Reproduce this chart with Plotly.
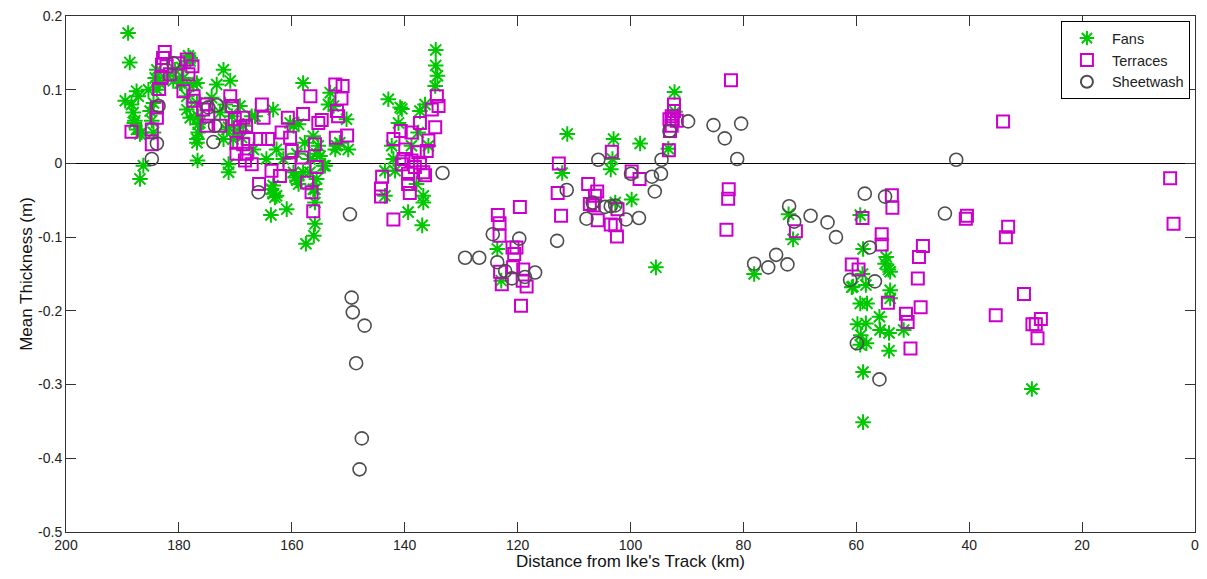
import plotly.graph_objects as go

# ---- data (distance km, mean thickness m) ----
fans_x = [189.0,188.7,187.5,187.2,189.5,188.4,188.1,187.8,187.5,186.9,186.3,186.9,185.4,184.5,184.2,183.9,183.4,180.7,179.2,178.3,178.0,179.8,176.8,178.6,176.8,178.6,176.6,176.3,176.8,176.7,173.3,172.1,170.9,174.2,172.7,171.5,172.1,170.4,171.2,171.2,168.6,167.1,166.8,163.3,162.7,163.3,163.3,164.5,159.7,159.7,158.0,157.7,156.2,155.6,155.6,154.4,153.2,152.6,152.3,156.2,159.1,
          163.6,162.7,160.9,163.7,155.9,155.9,156.1,157.5,155.9,158.8,
          153.5,150.3,151.5,150.0,154.1,156.8,159.4,163.0,169.2,166.5,160.3,158.8,161.5,159.1,156.8,158.0,155.0,155.3,
          134.5,134.5,134.2,134.6,142.9,140.5,137.3,136.4,141.1,137.6,142.3,138.8,135.8,142.0,141.7,143.5,137.9,136.7,136.7,139.4,136.9,143.5,140.8,152.1,111.2,112.1,
          123.6,122.9,103.0,103.2,103.5,98.3,99.8,102.7,95.5,93.3,92.2,92.1,
          72.0,71.2,78.1,59.3,58.8,58.9,60.8,58.3,
          54.7,54.9,54.0,54.3,60.6,54.0,54.0,59.3,58.1,55.9,59.8,58.3,55.8,54.2,51.6,59.2,59.3,58.2,54.2,58.8,58.8,28.9,
          187.9,186.6,183.9,183.6,185.1,184.8,184.5,181.9,181.0,179.5,178.0,179.5,177.4,178.0,176.6,176.6,176.8,171.8,171.2,170.6,169.5,168.9]
fans_y = [0.177,0.137,0.098,0.091,0.085,0.080,0.069,0.058,0.046,0.040,-0.003,-0.021,0.100,0.082,0.116,0.127,0.109,0.127,0.116,0.146,0.139,0.109,0.109,0.091,0.082,0.073,0.064,0.055,0.033,0.004,0.107,0.127,0.112,0.089,0.069,0.046,0.033,0.033,-0.001,-0.012,0.051,0.064,0.019,0.073,0.019,-0.030,-0.041,0.006,0.051,-0.012,0.109,0.028,0.037,0.013,-0.021,-0.003,0.096,0.078,0.019,-0.035,-0.023,
          -0.035,-0.044,-0.062,-0.070,-0.053,-0.082,-0.098,-0.109,-0.035,-0.028,
          0.080,0.060,0.028,0.019,-0.003,-0.012,-0.019,-0.046,0.078,0.064,0.055,0.053,0.006,0.013,0.006,-0.012,0.010,0.024,
          0.154,0.133,0.119,0.105,0.087,0.074,0.071,0.080,0.055,0.042,0.024,0.024,0.024,0.006,-0.010,-0.010,-0.028,-0.044,-0.053,-0.066,-0.084,-0.044,0.076,0.024,0.040,-0.013,
          -0.116,-0.159,0.033,0.006,-0.008,0.027,-0.049,-0.053,-0.141,0.020,0.097,0.070,
          -0.069,-0.103,-0.150,-0.070,-0.116,-0.150,-0.168,-0.165,
          -0.127,-0.136,-0.147,-0.144,-0.167,-0.172,-0.183,-0.190,-0.190,-0.208,-0.218,-0.217,-0.226,-0.230,-0.226,-0.233,-0.246,-0.244,-0.254,-0.283,-0.351,-0.306,
          0.055,0.042,0.100,0.112,0.071,0.058,0.042,0.119,0.112,0.109,0.143,0.130,0.107,0.062,0.053,0.042,0.028,0.080,0.049,0.064,0.044,0.035]

terr_x = [182.5,182.8,183.0,182.2,181.6,183.1,183.5,183.9,183.9,184.8,184.8,188.4,180.1,178.6,177.6,178.3,179.2,177.4,177.4,175.1,174.8,175.1,170.9,170.6,170.1,169.2,169.8,169.8,168.3,167.1,165.3,165.0,165.6,164.2,167.7,163.6,162.1,165.8,160.7,161.8,160.3,160.0,160.4,158.2,158.0,156.7,155.3,154.7,155.9,157.3,156.5,155.6,152.3,152.0,152.2,156.2,
          168.0,151.0,151.2,151.8,150.2,
          134.3,134.0,135.2,134.6,135.8,137.3,138.8,140.7,142.0,139.9,137.6,136.1,140.2,138.8,137.3,140.5,138.2,136.7,139.4,139.4,139.1,144.0,144.2,144.2,142.0,136.4,
          112.7,112.9,112.3,107.5,107.2,123.5,123.2,123.2,119.6,120.9,120.2,120.6,120.8,119.0,123.1,122.8,119.1,118.4,119.4,
          103.3,105.9,106.3,106.5,105.8,103.5,102.7,102.4,102.3,99.8,98.4,93.2,93.0,92.5,92.7,
          92.3,92.3,92.7,91.8,93.1,
          82.2,82.6,82.7,83.0,70.7,58.9,60.8,59.6,
          53.7,53.6,55.5,55.5,48.2,48.9,49.1,54.4,48.6,51.2,50.9,50.4,40.4,40.6,33.1,33.5,35.3,
          34.0,4.4,3.8,30.3,27.3,28.8,28.2,27.9,
          175.7,172.7,168.6,168.1,168.6]
terr_y = [0.151,0.143,0.134,0.132,0.121,0.116,0.101,0.076,0.062,0.046,0.026,0.043,0.136,0.141,0.132,0.121,0.098,0.091,0.085,0.080,0.064,0.051,0.091,0.078,0.060,0.049,0.028,0.013,0.004,-0.001,0.080,0.062,0.033,0.033,0.033,-0.010,-0.017,-0.028,0.062,0.042,0.035,0.017,-0.001,0.008,0.067,0.091,0.055,0.059,0.026,-0.026,-0.039,-0.005,0.107,0.071,0.035,-0.065,
          0.013,0.105,0.088,0.064,0.038,
          0.091,0.078,0.073,0.049,0.031,0.055,0.042,0.044,0.033,0.019,0.015,0.017,0.006,0.004,0.001,-0.001,-0.005,-0.012,-0.014,-0.028,-0.040,-0.018,-0.034,-0.045,-0.076,-0.016,
          0.000,-0.040,-0.071,-0.028,-0.055,-0.070,-0.081,-0.098,-0.059,-0.114,-0.114,-0.123,-0.141,-0.144,-0.147,-0.164,-0.159,-0.167,-0.193,
          0.016,-0.038,-0.044,-0.057,-0.077,-0.083,-0.084,-0.099,-0.062,-0.011,-0.021,0.018,0.044,0.060,0.051,
          0.080,0.071,0.064,0.058,0.060,
          0.113,-0.035,-0.048,-0.090,-0.092,-0.074,-0.137,-0.144,
          -0.043,-0.060,-0.096,-0.110,-0.112,-0.127,-0.156,-0.189,-0.195,-0.204,-0.215,-0.251,-0.071,-0.075,-0.086,-0.100,-0.206,
          0.057,-0.020,-0.082,-0.177,-0.211,-0.218,-0.218,-0.237,
          0.073,0.051,0.026,0.051,0.062]

sheet_x = [181.0,183.6,183.9,184.8,174.8,173.6,173.9,165.9,149.7,133.3,111.3,149.4,149.2,147.1,148.6,147.6,148.0,129.3,126.8,124.4,123.6,122.2,121.0,119.7,116.9,118.7,113.0,107.8,105.7,106.7,104.5,103.5,102.7,100.8,98.5,99.9,96.2,94.6,95.7,94.5,93.1,89.8,85.3,80.4,83.3,81.1,71.9,71.0,68.1,65.1,63.6,74.2,78.1,75.6,72.2,58.5,57.6,61.1,56.7,54.9,59.9,55.9,42.3,44.3,173.3]
sheet_y = [0.136,0.078,0.027,0.006,0.076,0.051,0.029,-0.039,-0.069,-0.013,-0.036,-0.182,-0.202,-0.220,-0.271,-0.373,-0.415,-0.128,-0.128,-0.096,-0.134,-0.146,-0.156,-0.102,-0.148,-0.154,-0.105,-0.075,0.005,-0.053,-0.059,-0.058,-0.057,-0.076,-0.074,-0.014,-0.018,-0.014,-0.038,0.005,0.044,0.057,0.052,0.054,0.034,0.006,-0.058,-0.079,-0.071,-0.080,-0.100,-0.124,-0.136,-0.141,-0.137,-0.041,-0.114,-0.158,-0.160,-0.045,-0.244,-0.293,0.005,-0.068,0.079]

x_ticks = [200, 180, 160, 140, 120, 100, 80, 60, 40, 20, 0]
y_ticks = [0.2, 0.1, 0, -0.1, -0.2, -0.3, -0.4, -0.5]
y_tick_text = ["0.2", "0.1", "0", "-0.1", "-0.2", "-0.3", "-0.4", "-0.5"]

FONT = "Liberation Sans, Arial, sans-serif"

fig = go.Figure()
fig.add_trace(go.Scatter(x=fans_x, y=fans_y, mode="markers", name="Fans",
                         marker=dict(symbol="asterisk-open", size=13, color="#00c800",
                                     line=dict(color="#00c800", width=2))))
fig.add_trace(go.Scatter(x=terr_x, y=terr_y, mode="markers", name="Terraces",
                         marker=dict(symbol="square-open", size=12, color="#cc00cc",
                                     line=dict(color="#cc00cc", width=2))))
fig.add_trace(go.Scatter(x=sheet_x, y=sheet_y, mode="markers", name="Sheetwash",
                         marker=dict(symbol="circle-open", size=13, color="#4d4d4d",
                                     line=dict(color="#4d4d4d", width=1.6))))

axis_common = dict(showgrid=False, ticks="inside", ticklen=10, tickwidth=1, tickcolor="#333333",
                   showline=True, linecolor="#333333", linewidth=1, mirror="ticks",
                   automargin=False, ticklabeloverflow="allow",
                   tickfont=dict(family=FONT, size=14, color="#222222"))

fig.update_xaxes(range=[200, 0], tickvals=x_ticks, zeroline=False,
                 title=dict(text="Distance from Ike's Track (km)", font=dict(family=FONT, size=17, color="#111111"), standoff=12),
                 **axis_common)
fig.update_yaxes(range=[-0.5, 0.2], tickvals=y_ticks, ticktext=y_tick_text,
                 zeroline=True, zerolinecolor="black", zerolinewidth=1,
                 title=dict(text="Mean Thickness (m)", font=dict(family=FONT, size=17, color="#111111"), standoff=1),
                 **axis_common)

# page body has an 8px default margin, so the figure is sized/offset to fit the window
fig.update_layout(
    width=1191, height=563,
    margin=dict(l=58, r=4, t=8, b=39),
    paper_bgcolor="white", plot_bgcolor="white",
    font=dict(family=FONT),
    showlegend=True,
    legend=dict(x=0.9955, xanchor="right", y=0.99, yanchor="top",
                bgcolor="white", bordercolor="black", borderwidth=1,
                font=dict(family=FONT, size=14.5, color="#222222"),
                itemwidth=40, tracegroupgap=0, itemsizing="constant"),
)

fig.write_html("out.html")
